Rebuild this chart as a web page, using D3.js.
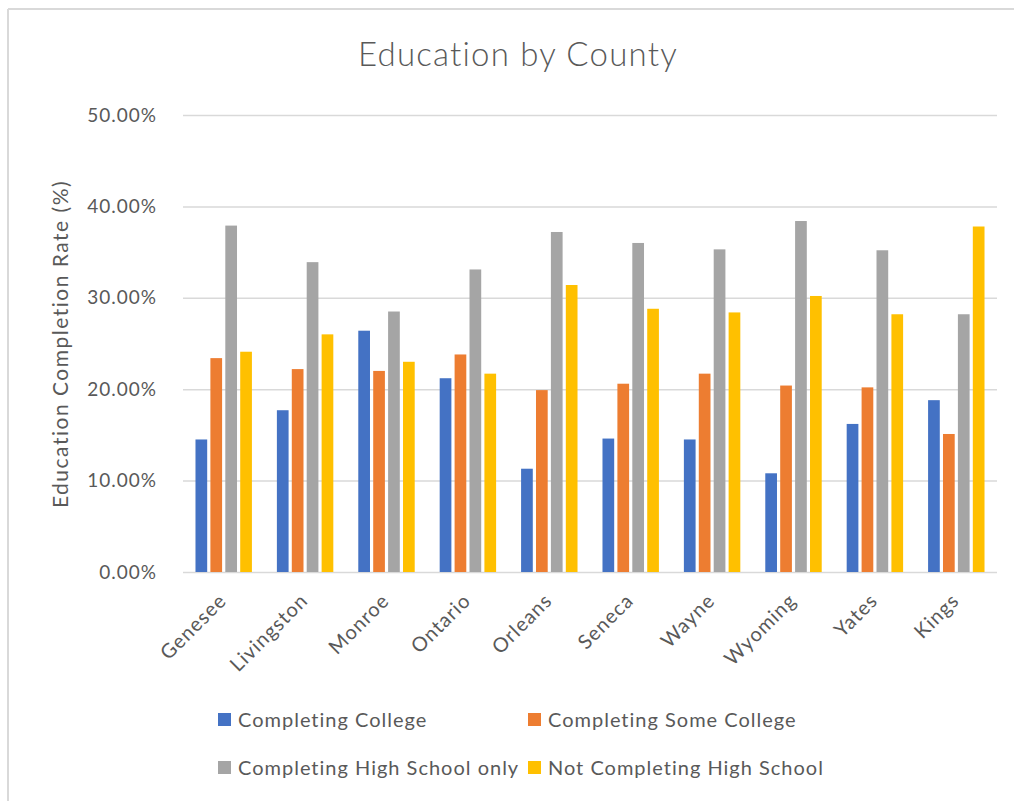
<!DOCTYPE html>
<html>
<head>
<meta charset="utf-8">
<script src="https://cdn.jsdelivr.net/npm/d3@7"></script>
<style>
  body { margin: 0; background: #fff; }
  text { font-family: Lato, "Open Sans", sans-serif; fill: #595959; }
  .grid line { stroke: #d9d9d9; stroke-width: 1.5; }
  .grid path { display: none; }
</style>
</head>
<body>
<div id="chart"></div>
<script>
// data
var counties = ['Genesee', 'Livingston', 'Monroe', 'Ontario', 'Orleans', 'Seneca', 'Wayne', 'Wyoming', 'Yates', 'Kings'];
var seriesNames = ['Completing College', 'Completing Some College', 'Completing High School only', 'Not Completing High School'];
var college     = [14.5, 17.7, 26.4, 21.2, 11.3, 14.6, 14.5, 10.8, 16.2, 18.8];
var someCollege = [23.4, 22.2, 22.0, 23.8, 19.9, 20.6, 21.7, 20.4, 20.2, 15.1];
var highSchool  = [37.9, 33.9, 28.5, 33.1, 37.2, 36.0, 35.3, 38.4, 35.2, 28.2];
var notHS       = [24.1, 26.0, 23.0, 21.7, 31.4, 28.8, 28.4, 30.2, 28.2, 37.8];
var yTicks = [0, 10, 20, 30, 40, 50];
var colors = ['#4472C4', '#ED7D31', '#A5A5A5', '#FFC000'];

var allSeries = [college, someCollege, highSchool, notHS];

var W = 1014, H = 801;
var margin = {t: 115, r: 17, b: 229, l: 183};
var width = W - margin.l - margin.r,
    height = H - margin.t - margin.b;

var svg = d3.select('#chart').append('svg')
    .attr('width', W)
    .attr('height', H);

// frame (top and left edges only, as in the picture)
svg.append('line').attr('x1', 8).attr('x2', W).attr('y1', 9).attr('y2', 9)
    .attr('stroke', '#d9d9d9').attr('stroke-width', 2);
svg.append('line').attr('x1', 8).attr('x2', 8).attr('y1', 9).attr('y2', H)
    .attr('stroke', '#d9d9d9').attr('stroke-width', 2);

// title
svg.append('text')
    .attr('x', 518).attr('y', 66)
    .attr('text-anchor', 'middle')
    .style('font-size', '33px')
    .style('font-weight', 300)
    .style('letter-spacing', '1.2px')
    .text('Education by County');

var g = svg.append('g').attr('transform', 'translate(' + margin.l + ',' + margin.t + ')');

// scales
var x0 = d3.scaleBand().domain(counties).range([0, width]).paddingInner(0.228).paddingOuter(0.114);
var x1 = d3.scaleBand().domain(d3.range(4)).range([0, x0.bandwidth()]).padding(0.215);
var y = d3.scaleLinear().domain([0, 50]).range([height, 0]);

// gridlines + y labels
var axisY = d3.axisLeft(y).tickValues(yTicks).tickSize(-width).tickPadding(26)
    .tickFormat(function(d) { return d.toFixed(2) + '%'; });
g.append('g').attr('class', 'grid').call(axisY)
    .selectAll('text')
    .style('font-size', '19px')
    .style('letter-spacing', '1px')
    .attr('fill', '#595959');
g.select('.grid').selectAll('.tick line').attr('stroke', '#d9d9d9');

// y axis title
svg.append('text')
    .attr('transform', 'translate(68,344) rotate(-90)')
    .attr('text-anchor', 'middle')
    .style('font-size', '21px')
    .style('letter-spacing', '1.5px')
    .text('Education Completion Rate (%)');

// bars
var groups = g.selectAll('.county')
    .data(counties)
    .enter()
    .append('g')
    .attr('class', 'county')
    .attr('transform', function(d) { return 'translate(' + x0(d) + ',0)'; });

groups.selectAll('rect')
    .data(function(d, i) { return allSeries.map(function(s, k) { return {k: k, v: s[i]}; }); })
    .enter()
    .append('rect')
    .attr('x', function(d) { return x1(d.k); })
    .attr('width', x1.bandwidth())
    .attr('y', function(d) { return y(d.v); })
    .attr('height', function(d) { return height - y(d.v); })
    .attr('fill', function(d) { return colors[d.k]; });

// x labels, rotated
g.selectAll('.xlab')
    .data(counties)
    .enter()
    .append('text')
    .attr('class', 'xlab')
    .attr('text-anchor', 'end')
    .style('font-size', '20px')
    .style('letter-spacing', '1px')
    .attr('transform', function(d) {
        return 'translate(' + (x0(d) + x0.bandwidth() / 2 + 4) + ',' + (height + 30) + ') rotate(-45)';
    })
    .text(function(d) { return d; });

// legend
var legendPos = [[218, 713], [528, 713], [218, 761], [528, 761]];
var legend = svg.selectAll('.legend')
    .data(seriesNames)
    .enter()
    .append('g')
    .attr('class', 'legend')
    .attr('transform', function(d, i) { return 'translate(' + legendPos[i][0] + ',' + legendPos[i][1] + ')'; });
legend.append('rect').attr('width', 13).attr('height', 13)
    .attr('fill', function(d, i) { return colors[i]; });
legend.append('text').attr('x', 20).attr('y', 14)
    .style('font-size', '20px')
    .style('letter-spacing', '1px')
    .text(function(d) { return d; });
</script>
</body>
</html>
